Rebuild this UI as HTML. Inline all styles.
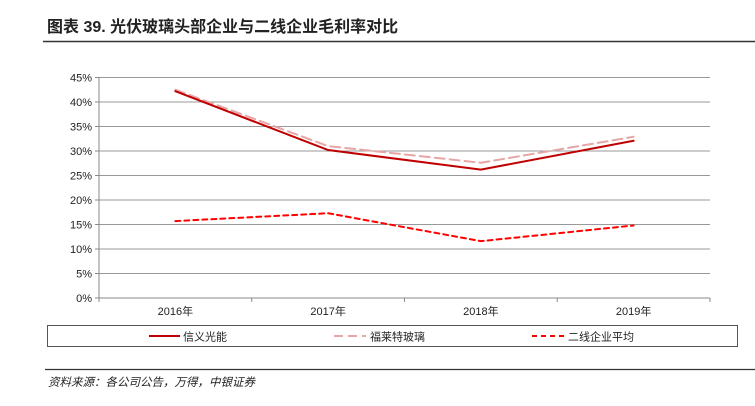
<!DOCTYPE html>
<html><head><meta charset="utf-8"><style>
body{margin:0;width:755px;height:401px;background:#fff;overflow:hidden;font-family:"Liberation Sans","Noto Sans CJK SC",sans-serif;}
</style></head><body>
<svg width="755" height="401" xmlns="http://www.w3.org/2000/svg">
<text x="47" y="32" font-size="16" font-weight="bold" fill="#222" font-family="Liberation Sans, Noto Sans CJK SC, sans-serif">图表 39. 光伏玻璃头部企业与二线企业毛利率对比</text>
<line x1="43" y1="41.5" x2="755" y2="41.5" stroke="#333" stroke-width="1.5"/>
<g id="grid"></g><g id="axes"></g><g id="series"></g>
<rect x="47.5" y="325.5" width="690" height="21" fill="none" stroke="#555"/>
<g><line x1="149" y1="336" x2="180" y2="336" stroke="#c00000" stroke-width="2"/><text x="183" y="340.5" font-size="11" fill="#222">信义光能</text></g>
<g><line x1="334" y1="336" x2="366" y2="336" stroke="#e6a6a6" stroke-width="2" stroke-dasharray="9,5"/><text x="370" y="340.5" font-size="11" fill="#222">福莱特玻璃</text></g>
<g><line x1="532" y1="336" x2="566" y2="336" stroke="#ff0000" stroke-width="2" stroke-dasharray="5,4"/><text x="568" y="340.5" font-size="11" fill="#222">二线企业平均</text></g>
<line x1="45" y1="369.5" x2="755" y2="369.5" stroke="#333" stroke-width="1.2"/>
<text x="48" y="386" font-size="11.5" font-style="italic" fill="#222">资料来源：各公司公告，万得，中银证券</text>
</svg>
<script>
const categories=["2016年","2017年","2018年","2019年"];
const xinyi=[42.2,30.2,26.2,32.1];
const flat=[42.5,31.0,27.6,32.9];
const avg=[15.7,17.3,11.6,14.8];
const yTicks=[0,5,10,15,20,25,30,35,40,45];
const NS="http://www.w3.org/2000/svg";
const X0=99,X1=710,Y0=298,Y1=77.5;
const band=(X1-X0)/categories.length;
const xs=i=>X0+band*(i+0.5);
const ys=v=>Y0-(v/45)*(Y0-Y1);
function mk(t,a,p){const e=document.createElementNS(NS,t);for(const k in a)e.setAttribute(k,a[k]);p.appendChild(e);return e;}
const g=document.getElementById('grid'),ax=document.getElementById('axes'),s=document.getElementById('series');
yTicks.forEach(v=>{
 const y=ys(v);
 if(v>0){const l=mk('line',{x1:X0,x2:X1,y1:y,y2:y,stroke:'#999','stroke-width':1},g);
 
 }
 const t=mk('text',{x:X0-7,y:y+4,'font-size':11,'text-anchor':'end',fill:'#222'},ax);
 t.textContent=v+'%';
 
 
 mk('line',{x1:X0-4,x2:X0,y1:y,y2:y,stroke:'#888'},ax);
});
mk('line',{x1:X0,x2:X0,y1:Y1,y2:Y0,stroke:'#888'},ax);
mk('line',{x1:X0,x2:X1,y1:Y0,y2:Y0,stroke:'#888'},ax);
for(let i=0;i<=categories.length;i++){const x=X0+band*i;mk('line',{x1:x,x2:x,y1:Y0,y2:Y0+4,stroke:'#888'},ax);}
categories.forEach((c,i)=>{const t=mk('text',{x:xs(i),y:Y0+17,'font-size':11,'text-anchor':'middle',fill:'#222'},ax);t.textContent=c;
 
 });
function line(vals,stroke,dash,name){
 const p=mk('polyline',{points:vals.map((v,i)=>xs(i)+','+ys(v)).join(' '),fill:'none',stroke:stroke,'stroke-width':2,'stroke-dasharray':dash,'stroke-linecap':'round'},s);
 
 
}
line(flat,'#e6a6a6','10,5','series-fulaite');
line(xinyi,'#c00000','none','series-xinyi');
line(avg,'#ff0000','5,4','series-second-tier');
</script>
</body></html>
